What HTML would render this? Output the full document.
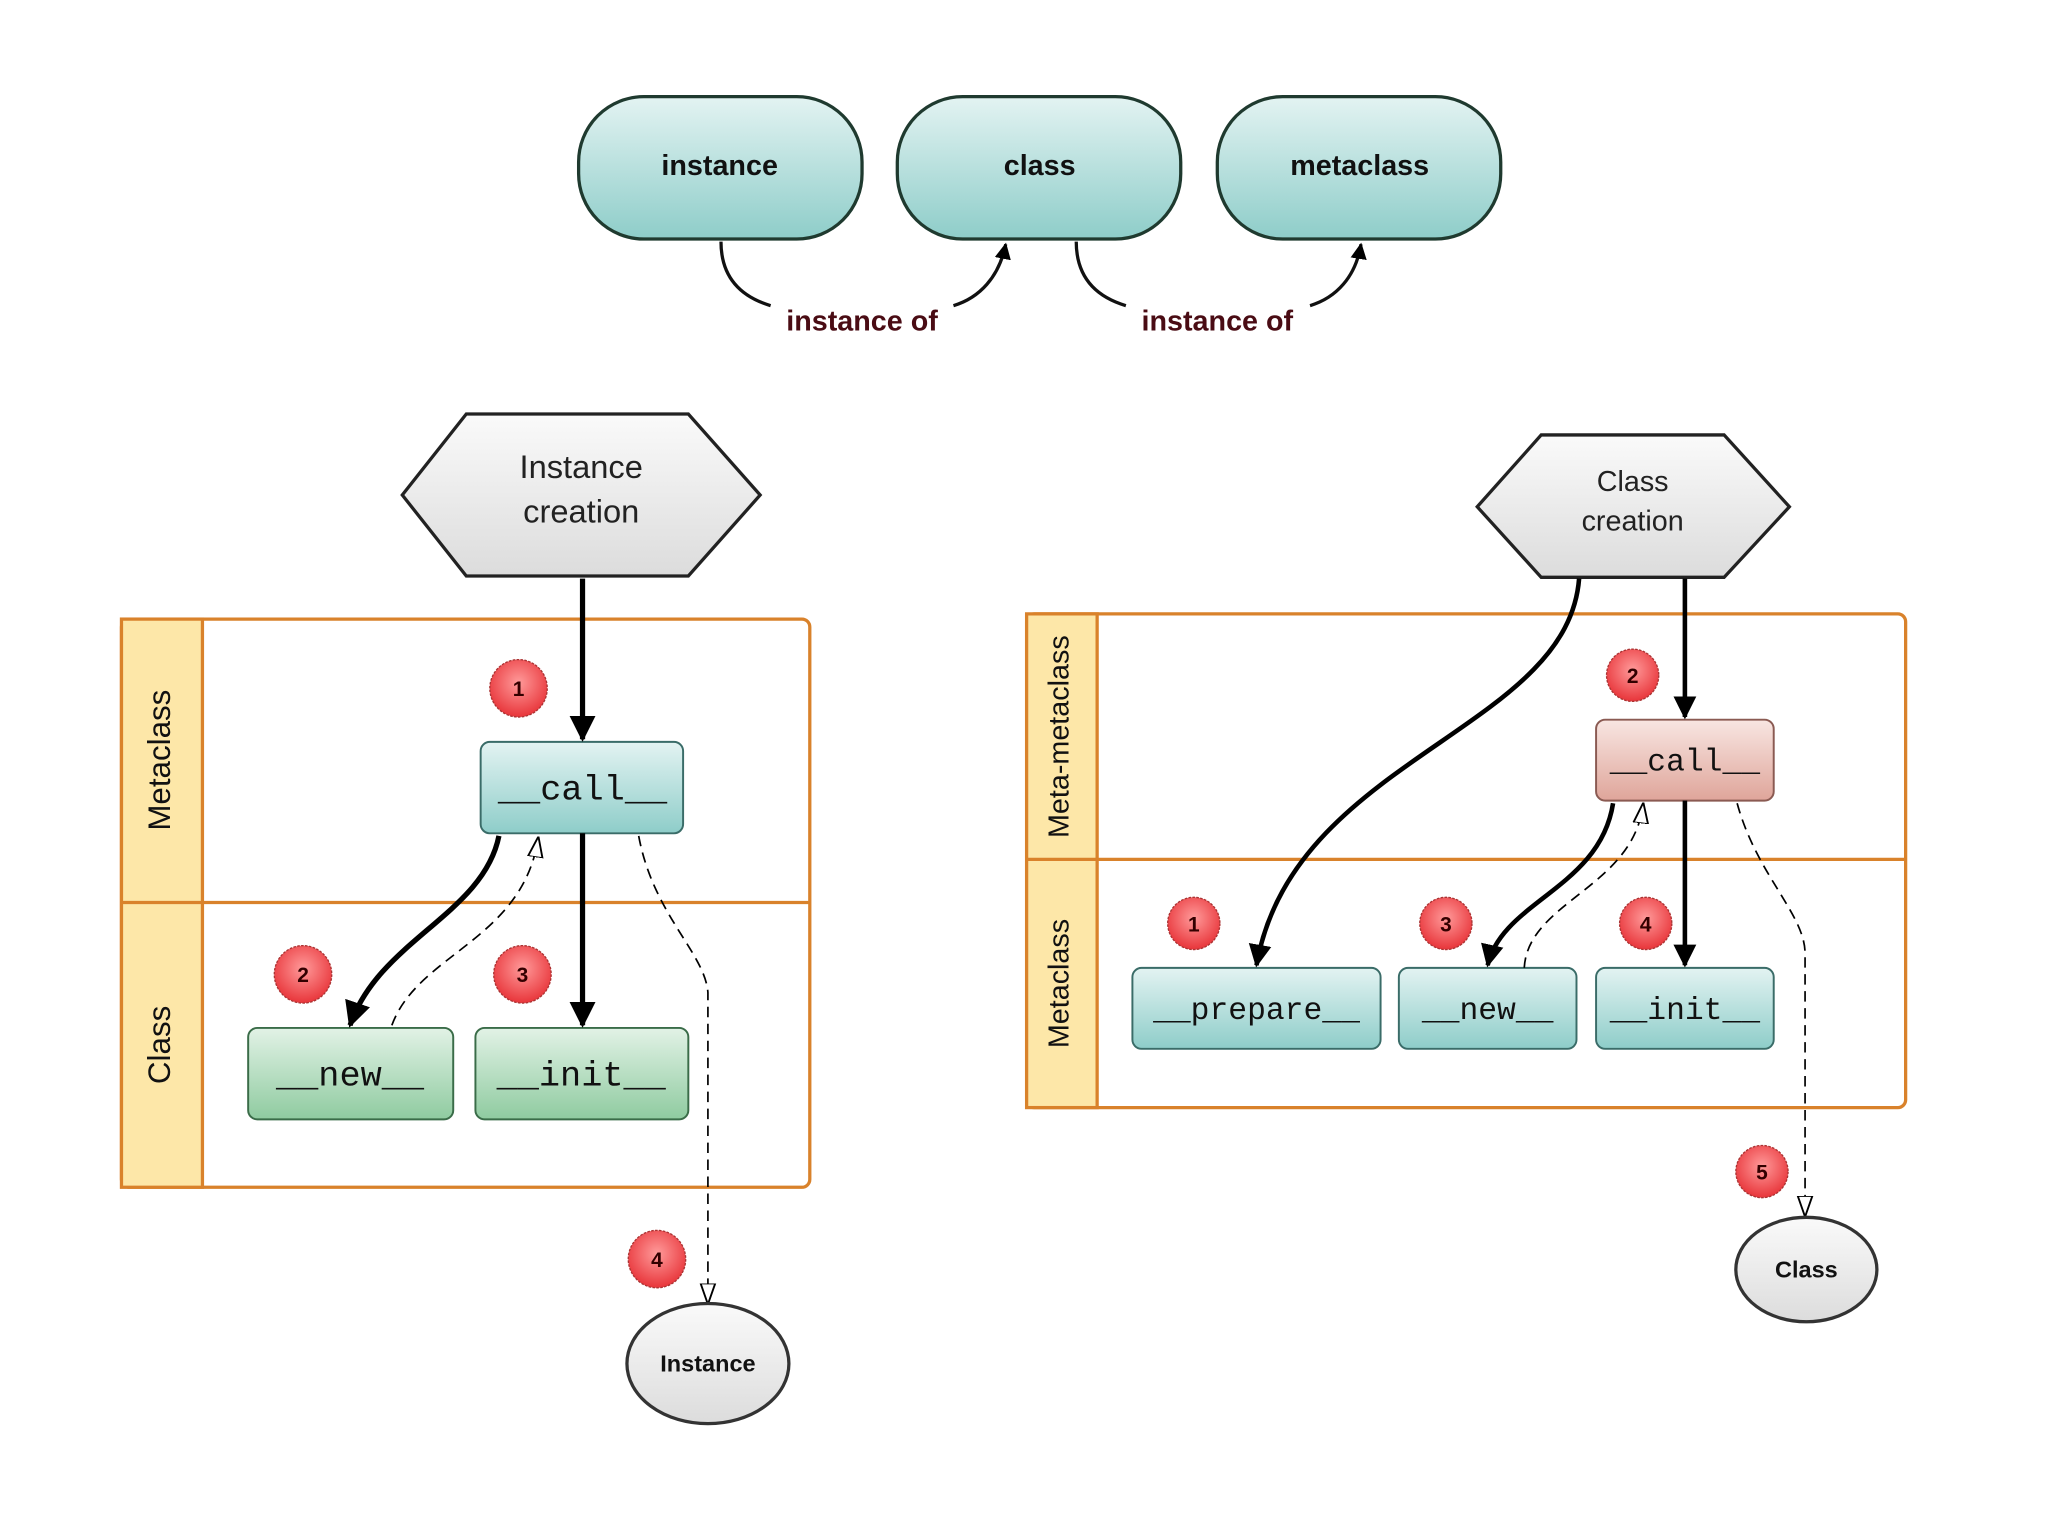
<!DOCTYPE html>
<html><head><meta charset="utf-8"><style>
html,body{margin:0;padding:0;background:#fff;}
svg{display:block;}
text{font-family:"Liberation Sans",sans-serif;}
.mono{font-family:"Liberation Mono",monospace;}
</style></head><body>
<svg width="2048" height="1536" viewBox="0 0 1568 1176" xmlns="http://www.w3.org/2000/svg">
<defs>
<linearGradient id="teal" x1="0" y1="0" x2="0" y2="1"><stop offset="0" stop-color="#e3f3f2"/><stop offset="1" stop-color="#8ecdc9"/></linearGradient>
<linearGradient id="green" x1="0" y1="0" x2="0" y2="1"><stop offset="0" stop-color="#e2f2e6"/><stop offset="1" stop-color="#8fcba0"/></linearGradient>
<linearGradient id="pink" x1="0" y1="0" x2="0" y2="1"><stop offset="0" stop-color="#f8e6e2"/><stop offset="1" stop-color="#dfa59a"/></linearGradient>
<linearGradient id="grey" x1="0" y1="0" x2="0" y2="1"><stop offset="0" stop-color="#fafafa"/><stop offset="1" stop-color="#dcdcdc"/></linearGradient>
<radialGradient id="red" cx="0.5" cy="0.4" r="0.6"><stop offset="0" stop-color="#ff9a9a"/><stop offset="1" stop-color="#e8353a"/></radialGradient>
<marker id="ah" viewBox="0 0 10 10" refX="9" refY="5" markerWidth="5" markerHeight="5" orient="auto"><path d="M0,0 L10,5 L0,10 z" fill="#000"/></marker>
<marker id="oh" viewBox="0 0 10 10" refX="9" refY="5" markerWidth="16" markerHeight="16" orient="auto" markerUnits="userSpaceOnUse"><path d="M0,1.5 L10,5 L0,8.5 z" fill="#fff" stroke="#000" stroke-width="0.9"/></marker>
</defs>

<g stroke="#1f3a2f" stroke-width="2.5" fill="url(#teal)">
<rect x="443" y="74" width="217" height="109" rx="50"/>
<rect x="687" y="74" width="217" height="109" rx="50"/>
<rect x="932" y="74" width="217" height="109" rx="50"/>
</g>
<g font-size="22" font-weight="bold" text-anchor="middle" fill="#111">
<text x="551" y="134">instance</text><text x="796" y="134">class</text><text x="1041" y="134">metaclass</text>
</g>
<g fill="none" stroke="#111" stroke-width="2.5">
<path d="M552,185 C552,215 570,228 590,234"/>
<path d="M730,234 C750,228 765,212 770,187" marker-end="url(#ah)"/>
<path d="M824,185 C824,215 842,228 862,234"/>
<path d="M1003,234 C1023,228 1038,212 1042,187" marker-end="url(#ah)"/>
</g>
<g font-size="22" font-weight="bold" text-anchor="middle" fill="#4a0c14">
<text x="660" y="253">instance of</text><text x="932" y="253">instance of</text>
</g>

<rect x="93" y="474" width="527" height="435" rx="6" fill="#fff" stroke="#d9822b" stroke-width="2.5"/>
<rect x="93" y="474" width="62" height="435" fill="#fde7a8" stroke="#d9822b" stroke-width="2.5"/>
<line x1="93" y1="691" x2="620" y2="691" stroke="#d9822b" stroke-width="2.5"/>
<text transform="translate(130,582) rotate(-90)" font-size="24" text-anchor="middle" fill="#111">Metaclass</text>
<text transform="translate(130,800) rotate(-90)" font-size="24" text-anchor="middle" fill="#111">Class</text>

<path d="M357,317 L527,317 L582,379 L527,441 L357,441 L308,379 Z" fill="url(#grey)" stroke="#222" stroke-width="2.5"/>
<text x="445" y="366" font-size="25" text-anchor="middle" fill="#222">Instance</text>
<text x="445" y="400" font-size="25" text-anchor="middle" fill="#222">creation</text>

<rect x="368" y="568" width="155" height="70" rx="7" fill="url(#teal)" stroke="#3a6c68" stroke-width="1.5"/>
<text x="446" y="612" class="mono" font-size="27" text-anchor="middle" fill="#111">__call__</text>
<rect x="190" y="787" width="157" height="70" rx="7" fill="url(#green)" stroke="#3a6c48" stroke-width="1.5"/>
<text x="268" y="831" class="mono" font-size="27" text-anchor="middle" fill="#111">__new__</text>
<rect x="364" y="787" width="163" height="70" rx="7" fill="url(#green)" stroke="#3a6c48" stroke-width="1.5"/>
<text x="445" y="831" class="mono" font-size="27" text-anchor="middle" fill="#111">__init__</text>

<g fill="none" stroke="#000" stroke-width="4">
<path d="M446,443 L446,566" marker-end="url(#ah)"/>
<path d="M446,638 L446,785" marker-end="url(#ah)"/>
<path d="M382,640 C370,700 290,720 268,785" marker-end="url(#ah)"/>
</g>
<g fill="none" stroke="#000" stroke-width="1.3" stroke-dasharray="8,5">
<path d="M300,785 C320,730 400,720 412,642" marker-end="url(#oh)"/>
<path d="M489,640 C500,700 540,730 542,760 L542,997" marker-end="url(#oh)"/>
</g>
<ellipse cx="542" cy="1044" rx="62" ry="46" fill="url(#grey)" stroke="#333" stroke-width="2.5"/>
<text x="542" y="1050" font-size="18" font-weight="bold" text-anchor="middle" fill="#111">Instance</text>

<rect x="786" y="470" width="673" height="378" rx="6" fill="#fff" stroke="#d9822b" stroke-width="2.5"/>
<rect x="786" y="470" width="54" height="378" fill="#fde7a8" stroke="#d9822b" stroke-width="2.5"/>
<line x1="786" y1="658" x2="1459" y2="658" stroke="#d9822b" stroke-width="2.5"/>
<text transform="translate(818,564) rotate(-90)" font-size="22" text-anchor="middle" fill="#111">Meta-metaclass</text>
<text transform="translate(818,753) rotate(-90)" font-size="22" text-anchor="middle" fill="#111">Metaclass</text>

<path d="M1180,333 L1320,333 L1370,388 L1320,442 L1180,442 L1131,388 Z" fill="url(#grey)" stroke="#222" stroke-width="2.5"/>
<text x="1250" y="376" font-size="22" text-anchor="middle" fill="#222">Class</text>
<text x="1250" y="406" font-size="22" text-anchor="middle" fill="#222">creation</text>

<rect x="1222" y="551" width="136" height="62" rx="7" fill="url(#pink)" stroke="#8a5a52" stroke-width="1.5"/>
<text x="1290" y="590" class="mono" font-size="24" text-anchor="middle" fill="#111">__call__</text>
<rect x="867" y="741" width="190" height="62" rx="7" fill="url(#teal)" stroke="#3a6c68" stroke-width="1.5"/>
<text x="962" y="780" class="mono" font-size="24" text-anchor="middle" fill="#111">__prepare__</text>
<rect x="1071" y="741" width="136" height="62" rx="7" fill="url(#teal)" stroke="#3a6c68" stroke-width="1.5"/>
<text x="1139" y="780" class="mono" font-size="24" text-anchor="middle" fill="#111">__new__</text>
<rect x="1222" y="741" width="136" height="62" rx="7" fill="url(#teal)" stroke="#3a6c68" stroke-width="1.5"/>
<text x="1290" y="780" class="mono" font-size="24" text-anchor="middle" fill="#111">__init__</text>

<g fill="none" stroke="#000" stroke-width="3.5">
<path d="M1290,443 L1290,549" marker-end="url(#ah)"/>
<path d="M1290,613 L1290,739" marker-end="url(#ah)"/>
<path d="M1209,443 C1200,560 990,580 962,739" marker-end="url(#ah)"/>
<path d="M1235,615 C1225,680 1150,690 1139,739" marker-end="url(#ah)"/>
</g>
<g fill="none" stroke="#000" stroke-width="1.3" stroke-dasharray="8,5">
<path d="M1167,741 C1170,690 1250,680 1258,616" marker-end="url(#oh)"/>
<path d="M1330,615 C1345,670 1382,700 1382,730 L1382,930" marker-end="url(#oh)"/>
</g>
<ellipse cx="1383" cy="972" rx="54" ry="40" fill="url(#grey)" stroke="#333" stroke-width="2.5"/>
<text x="1383" y="978" font-size="18" font-weight="bold" text-anchor="middle" fill="#111">Class</text>

<g stroke="#a33" stroke-width="1" stroke-dasharray="2,1" fill="url(#red)">
<circle cx="397" cy="527" r="22"/><circle cx="232" cy="746" r="22"/><circle cx="400" cy="746" r="22"/><circle cx="503" cy="964" r="22"/>
<circle cx="1250" cy="517" r="20"/><circle cx="914" cy="707" r="20"/><circle cx="1107" cy="707" r="20"/><circle cx="1260" cy="707" r="20"/><circle cx="1349" cy="897" r="20"/>
</g>
<g font-size="16" font-weight="bold" text-anchor="middle" fill="#300">
<text x="397" y="533" font-family="Liberation Serif, serif">1</text><text x="232" y="752" font-family="Liberation Serif, serif">2</text><text x="400" y="752" font-family="Liberation Serif, serif">3</text><text x="503" y="970" font-family="Liberation Serif, serif">4</text>
<text x="1250" y="523" font-family="Liberation Serif, serif">2</text><text x="914" y="713" font-family="Liberation Serif, serif">1</text><text x="1107" y="713" font-family="Liberation Serif, serif">3</text><text x="1260" y="713" font-family="Liberation Serif, serif">4</text><text x="1349" y="903" font-family="Liberation Serif, serif">5</text>
</g>
</svg>
</body></html>
